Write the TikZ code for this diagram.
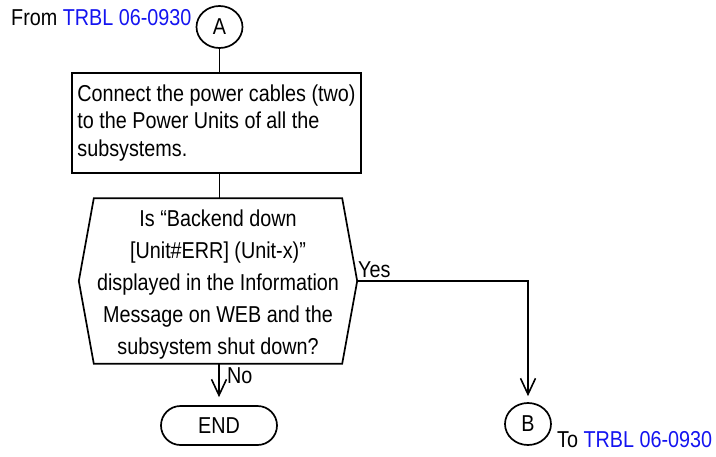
\documentclass[tikz,border=0pt]{standalone}
\usepackage{fontspec}
\setmainfont{Liberation Sans}[FakeStretch=0.86]
\usetikzlibrary{arrows.meta,shapes.geometric,shapes.misc}
\definecolor{linkblue}{RGB}{20,20,240}
\begin{document}
\begin{tikzpicture}[x=1pt,y=-1pt,
  every node/.style={font=\fontsize{23}{27.5}\selectfont},
  ln/.style={line width=1.7pt},
  arr/.style={ln,-{Straight Barb[length=16pt,width=15pt,line width=1.6pt]}},
  conn/.style={ellipse,draw,line width=1.7pt,minimum width=46pt,minimum height=42pt,inner sep=0pt},
  procbox/.style={draw,line width=1.7pt,minimum width=289pt,minimum height=100pt,inner xsep=4pt,align=left},
  endbox/.style={draw,line width=1.7pt,rounded rectangle,minimum width=116pt,minimum height=39pt,inner sep=0pt}
]
\useasboundingbox (0,0) rectangle (716,456);

\node[conn] (A) at (219.5,27) {A};
\node[anchor=base west,inner sep=0pt] (from) at (11,25) {From \textcolor{linkblue}{TRBL 06-0930}};

\node[procbox] (box) at (216.5,123) {Connect the power cables (two)\\to the Power Units of all the\\subsystems.};

\node[minimum width=278pt,minimum height=165pt,inner sep=0pt] (dec) at (218,281) {};
\draw[ln] (dec.west) -- ([xshift=15pt]dec.north west) -- ([xshift=-15pt]dec.north east)
  -- (dec.east) -- ([xshift=-15pt]dec.south east) -- ([xshift=15pt]dec.south west) -- cycle;
\node[inner sep=0pt,align=center,font=\fontsize{23}{32}\selectfont] (dectext) at (218,285)
  {Is “Backend down\\{[}Unit\#ERR{]} (Unit-x)”\\displayed in the Information\\Message on WEB and the\\subsystem shut down?};

\node[endbox] (end) at (219,425.5) {END};
\node[conn] (B) at (528,424) {B};
\node[anchor=base west,inner sep=0pt] (to) at (557,447) {To \textcolor{linkblue}{TRBL 06-0930}};

\draw[ln] (A.south) -- (A.south |- box.north);
\draw[ln] (A.south |- box.south) -- (A.south |- dec.north);
\draw[arr,shorten >=8pt] (end.north |- dec.south) -- (end.north);
\draw[arr,shorten >=6pt] (dec.east) -- (dec.east -| B.north) -- (B.north);

\node[anchor=base west,inner sep=0pt] (yes) at (358,277) {Yes};
\node[anchor=base west,inner sep=0pt] (no) at (227,383) {No};
\end{tikzpicture}
\end{document}
